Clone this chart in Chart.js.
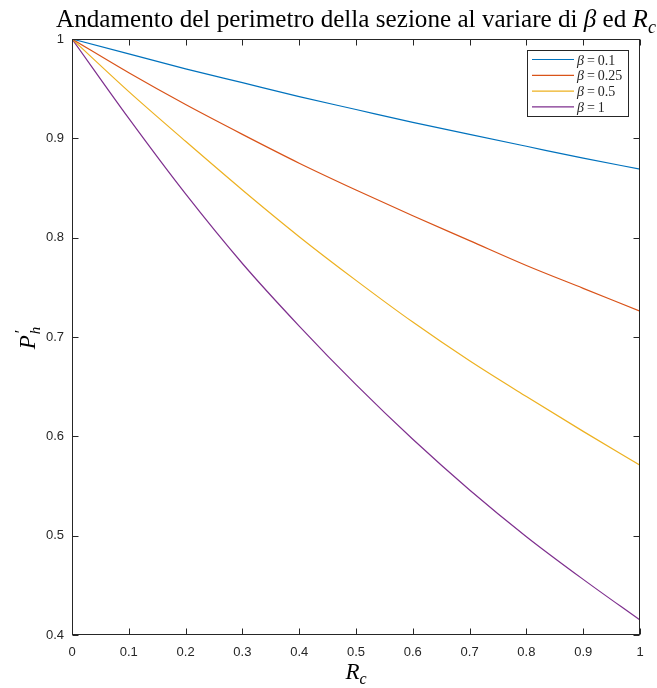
<!DOCTYPE html>
<html>
<head>
<meta charset="utf-8">
<script src="https://cdn.jsdelivr.net/npm/chart.js@4/dist/chart.umd.min.js"></script>
<style>
  html, body { margin: 0; padding: 0; background: #fff; }
  canvas { display: block; }
</style>
</head>
<body>
<canvas id="chart" width="657" height="688"></canvas>
<script>
// Rc values (horizontal axis)
const rc = [0, 0.1, 0.2, 0.3, 0.4, 0.5, 0.6, 0.7, 0.8, 0.9, 1];

// Normalised perimeter P'_h for each beta
const betaLabels = ['0.1', '0.25', '0.5', '1'];
const pBeta010 = [1, 0.985, 0.970, 0.956, 0.942, 0.929, 0.916, 0.904, 0.892, 0.880, 0.869];
const pBeta025 = [1, 0.966, 0.934, 0.904, 0.875, 0.848, 0.822, 0.797, 0.772, 0.749, 0.726];
const pBeta050 = [1, 0.947, 0.897, 0.848, 0.801, 0.757, 0.715, 0.676, 0.640, 0.605, 0.571];
const pBeta100 = [1, 0.920, 0.844, 0.774, 0.711, 0.652, 0.597, 0.546, 0.499, 0.456, 0.415];

// Tick values
const xTickValues = [0, 0.1, 0.2, 0.3, 0.4, 0.5, 0.6, 0.7, 0.8, 0.9, 1];
const yTickValues = [0.4, 0.5, 0.6, 0.7, 0.8, 0.9, 1];

const seriesColors = ['#0072BD', '#D95319', '#EDB120', '#7E2F8E'];
const series = [pBeta010, pBeta025, pBeta050, pBeta100];

const AXIS_COLOR = '#262626';
const SERIF = '"Liberation Serif", "DejaVu Serif", serif';
const SANS = '"Liberation Sans", Arial, Helvetica, sans-serif';

// Text made of runs with their own font and offsets; a run marked
// "stack" shares its x position with the previous stacked run
// (superscript and subscript placed one above the other).
function runsWidth(ctx, runs) {
  let w = 0, stackW = 0;
  for (const r of runs) {
    ctx.font = r.font;
    const rw = ctx.measureText(r.t).width + (r.kern || 0);
    if (r.stack) { stackW = Math.max(stackW, rw); continue; }
    w += stackW; stackW = 0;
    w += rw;
  }
  return w + stackW;
}
function drawRuns(ctx, runs, x, y) {
  let cx = x, stackW = 0;
  for (const r of runs) {
    ctx.font = r.font;
    const rw = ctx.measureText(r.t).width + (r.kern || 0);
    if (r.stack) {
      ctx.fillText(r.t, cx + (r.dx || 0), y + (r.dy || 0));
      stackW = Math.max(stackW, rw);
      continue;
    }
    cx += stackW; stackW = 0;
    ctx.fillText(r.t, cx + (r.dx || 0), y + (r.dy || 0));
    cx += rw;
  }
}

const matlabAxes = {
  id: 'matlabAxes',
  afterDatasetsDraw(chart) {
    const { ctx, chartArea: a, scales: { x, y } } = chart;
    ctx.save();
    ctx.strokeStyle = AXIS_COLOR;
    ctx.lineWidth = 1;
    const L = Math.round(a.left) + 0.5, R = Math.round(a.right) - 0.5;
    const T = Math.round(a.top) + 0.5, B = Math.round(a.bottom) - 0.5;
    const tl = 6;
    ctx.beginPath();
    xTickValues.forEach(v => {
      const px = Math.round(x.getPixelForValue(v)) + 0.5;
      ctx.moveTo(px, B); ctx.lineTo(px, B - tl);
      ctx.moveTo(px, T); ctx.lineTo(px, T + tl);
    });
    yTickValues.forEach(v => {
      const py = Math.round(y.getPixelForValue(v)) + 0.5;
      ctx.moveTo(L, py); ctx.lineTo(L + tl, py);
      ctx.moveTo(R, py); ctx.lineTo(R - tl, py);
    });
    ctx.stroke();
    ctx.strokeRect(L, T, R - L, B - T);

    // Legend box
    const lx = 527.5, ly = 50.5, lw = 101, lh = 66;
    ctx.fillStyle = '#fff';
    ctx.fillRect(lx, ly, lw, lh);
    ctx.strokeStyle = AXIS_COLOR;
    ctx.lineWidth = 1;
    ctx.strokeRect(lx, ly, lw, lh);
    const rowY = [59.5, 75.3, 91.1, 106.9];
    ctx.textBaseline = 'alphabetic';
    ctx.textAlign = 'left';
    betaLabels.forEach((lab, i) => {
      ctx.strokeStyle = seriesColors[i];
      ctx.lineWidth = 1.2;
      ctx.beginPath();
      ctx.moveTo(532, rowY[i]);
      ctx.lineTo(574, rowY[i]);
      ctx.stroke();
      ctx.fillStyle = AXIS_COLOR;
      drawRuns(ctx, [
        { t: 'β', font: `italic 14px ${SERIF}`, kern: 3 },
        { t: '=', font: `14px ${SERIF}`, kern: 3 },
        { t: lab, font: `14px ${SERIF}` }
      ], 577, rowY[i] + 5);
    });
    ctx.restore();
  },
  afterDraw(chart) {
    const { ctx, chartArea: a } = chart;
    ctx.save();
    ctx.fillStyle = '#000';
    ctx.textBaseline = 'alphabetic';
    ctx.textAlign = 'left';

    // Title, scaled to span the axes width
    const mk = s => [
      { t: 'Andamento del perimetro della sezione al variare di ', font: `${s}px ${SERIF}` },
      { t: 'β', font: `italic ${s}px ${SERIF}` },
      { t: ' ed ', font: `${s}px ${SERIF}` },
      { t: 'R', font: `italic ${s}px ${SERIF}` },
      { t: 'c', font: `italic ${Math.round(s * 0.7)}px ${SERIF}`, dy: s * 0.22 }
    ];
    let s = 20;
    const targetW = 600;
    s = s * targetW / runsWidth(ctx, mk(s));
    const runs = mk(s);
    const tw = runsWidth(ctx, runs);
    const cx = (a.left + a.right) / 2;
    drawRuns(ctx, runs, cx - tw / 2, 27);

    // x axis label R_c
    const xl = [
      { t: 'R', font: `italic 23px ${SERIF}` },
      { t: 'c', font: `italic 16px ${SERIF}`, dy: 5 }
    ];
    const xw = runsWidth(ctx, xl);
    drawRuns(ctx, xl, cx - xw / 2, 679);

    // y axis label P'_h (rotated, reading upwards)
    const yl = [
      { t: 'P', font: `italic 23px ${SERIF}`, kern: 1 },
      { t: '′', font: `17px ${SERIF}`, dy: -9, stack: true, dx: 1 },
      { t: 'h', font: `italic 15px ${SERIF}`, dy: 5, stack: true }
    ];
    const yw = runsWidth(ctx, yl);
    ctx.translate(35, 338);
    ctx.rotate(-Math.PI / 2);
    drawRuns(ctx, yl, -yw / 2, 0);
    ctx.restore();
  }
};

new Chart(document.getElementById('chart'), {
  type: 'line',
  data: {
    datasets: series.map((vals, i) => ({
      label: 'β = ' + betaLabels[i],
      data: rc.map((r, j) => ({ x: r, y: vals[j] })),
      borderColor: seriesColors[i],
      borderWidth: 1.2,
      pointRadius: 0,
      fill: false,
      cubicInterpolationMode: 'monotone'
    }))
  },
  options: {
    responsive: false,
    animation: false,
    events: [],
    layout: { padding: { left: 0, right: 17, top: 39, bottom: 0 } },
    plugins: {
      legend: { display: false },
      title: { display: false },
      tooltip: { enabled: false }
    },
    scales: {
      x: {
        type: 'linear',
        min: 0, max: 1,
        border: { display: false },
        grid: { display: false, drawTicks: false },
        afterBuildTicks: sc => { sc.ticks = xTickValues.map(v => ({ value: v })); },
        afterFit: sc => { sc.height = 53; },
        ticks: {
          autoSkip: false, maxRotation: 0, padding: 10,
          color: AXIS_COLOR,
          font: { family: SANS, size: 13 },
          callback: v => String(v)
        }
      },
      y: {
        type: 'linear',
        min: 0.4, max: 1,
        border: { display: false },
        grid: { display: false, drawTicks: false },
        afterBuildTicks: sc => { sc.ticks = yTickValues.map(v => ({ value: v })); },
        afterFit: sc => { sc.width = 72; },
        ticks: {
          autoSkip: false, padding: 8,
          color: AXIS_COLOR,
          font: { family: SANS, size: 13 },
          callback: v => String(v)
        }
      }
    }
  },
  plugins: [matlabAxes]
});
</script>
</body>
</html>
